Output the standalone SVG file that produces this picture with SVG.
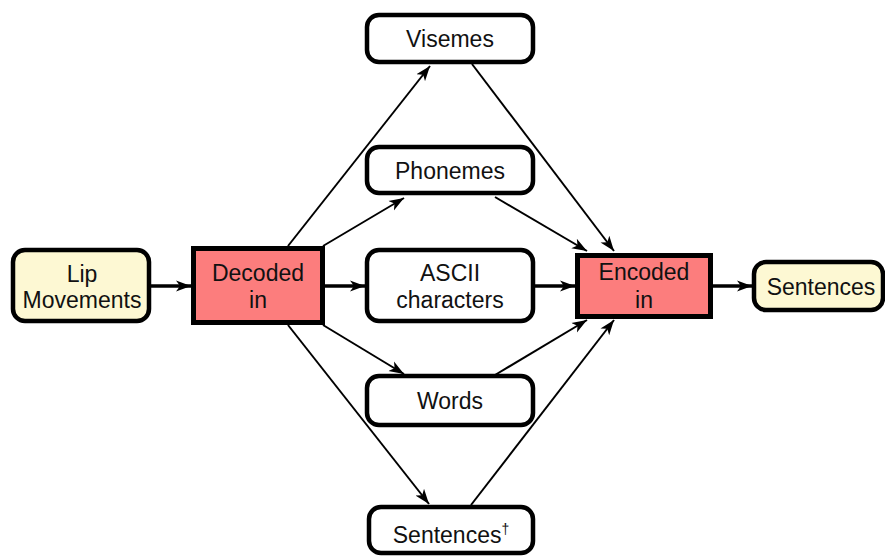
<svg xmlns="http://www.w3.org/2000/svg" width="885" height="556" viewBox="0 0 885 556">
<defs>
<style>
text{font-family:"Liberation Sans",Arial,sans-serif;font-size:23px;fill:#111;text-anchor:middle}
tspan{fill:#111}
.nb{fill:#fff;stroke:#000;stroke-width:4.5}
.yb{fill:#fdf8d3;stroke:#000;stroke-width:4.5}
.rb{fill:#fc7d7d;stroke:#000;stroke-width:5}
.thin{stroke:#000;stroke-width:2;fill:none;marker-end:url(#ah)}
.thick{stroke:#000;stroke-width:3.5;fill:none;marker-end:url(#ah)}
</style>
<marker id="ah" markerUnits="userSpaceOnUse" markerWidth="16" markerHeight="12" refX="15" refY="6" orient="auto">
<path d="M0,0.5 L15,6 L0,11.5 L4,6 Z" fill="#000"/>
</marker>
</defs>
<rect width="885" height="556" fill="#fff"/>
<g id="connectors">
<line class="thick" x1="151" y1="286" x2="191" y2="286"/>
<line class="thick" x1="323" y1="286" x2="365" y2="286"/>
<line class="thick" x1="535" y1="286" x2="575" y2="286"/>
<line class="thick" x1="713" y1="286" x2="752" y2="286"/>
<line class="thin" x1="288" y1="246" x2="430" y2="66"/>
<line class="thin" x1="323" y1="246" x2="404" y2="198"/>
<line class="thin" x1="323" y1="325" x2="404" y2="374"/>
<line class="thin" x1="288" y1="325" x2="429" y2="504"/>
<line class="thin" x1="472" y1="64" x2="614" y2="251"/>
<line class="thin" x1="495" y1="197" x2="587" y2="251"/>
<line class="thin" x1="495" y1="375" x2="587" y2="320"/>
<line class="thin" x1="471" y1="505" x2="614" y2="320"/>
</g>
<g id="lip">
<rect class="yb" x="13" y="250" width="136" height="71" rx="12"/>
<text x="82" y="282">Lip</text>
<text x="82" y="308">Movements</text>
</g>
<g id="decoded">
<rect class="rb" x="193.5" y="248.5" width="129" height="74"/>
<text x="258" y="281">Decoded</text>
<text x="258" y="308">in</text>
</g>
<g id="visemes">
<rect class="nb" x="367" y="15" width="166" height="47" rx="12"/>
<text x="450" y="47">Visemes</text>
</g>
<g id="phonemes">
<rect class="nb" x="367" y="147" width="166" height="46" rx="12"/>
<text x="450" y="179">Phonemes</text>
</g>
<g id="ascii">
<rect class="nb" x="367" y="250" width="166" height="71" rx="12"/>
<text x="450" y="281">ASCII</text>
<text x="450" y="308">characters</text>
</g>
<g id="words">
<rect class="nb" x="367" y="376" width="166" height="49" rx="12"/>
<text x="450" y="409">Words</text>
</g>
<g id="sentences-dagger">
<rect class="nb" x="369" y="507" width="164" height="46" rx="12"/>
<text x="451" y="543">Sentences<tspan font-size="14" dy="-9">†</tspan></text>
</g>
<g id="encoded">
<rect class="rb" x="577.5" y="255.5" width="133" height="61"/>
<text x="644" y="280">Encoded</text>
<text x="644" y="308">in</text>
</g>
<g id="sentences">
<rect class="yb" x="754" y="262" width="129" height="48" rx="12"/>
<text x="821" y="295">Sentences</text>
</g>
</svg>
